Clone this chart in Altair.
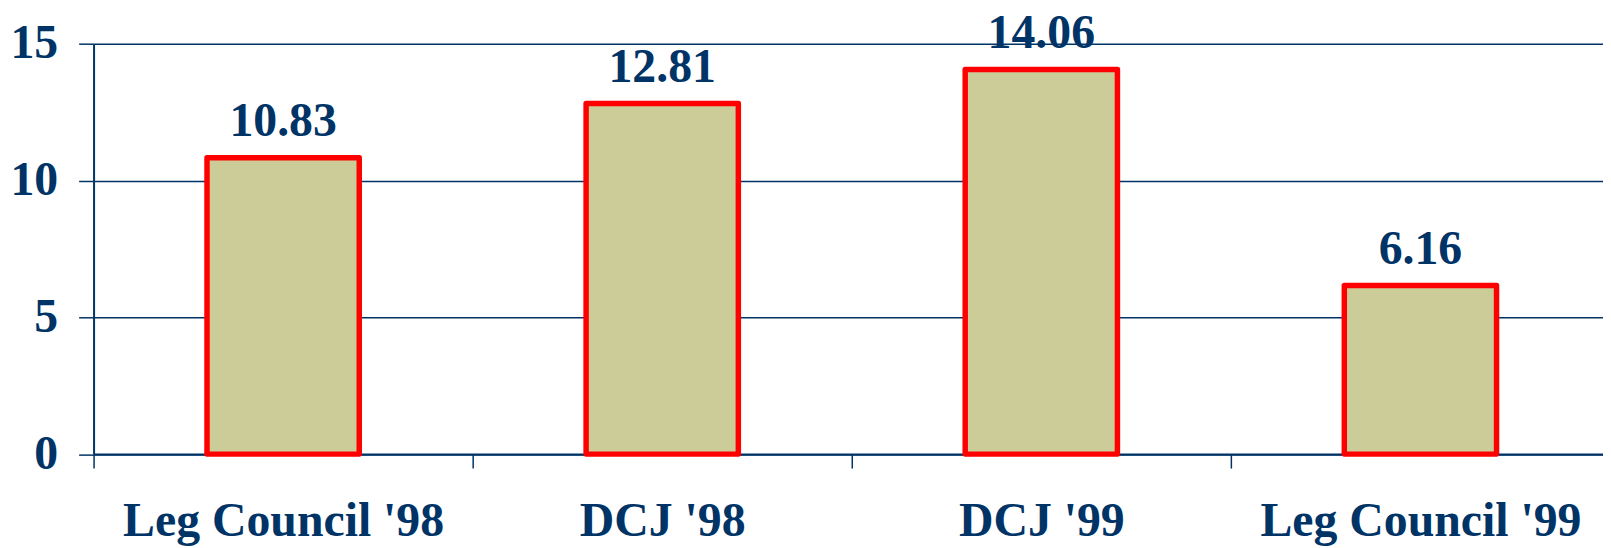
import altair as alt
import pandas as pd

categories = ["Leg Council '98", "DCJ '98", "DCJ '99", "Leg Council '99"]
values = [10.83, 12.81, 14.06, 6.16]
labels = ["10.83", "12.81", "14.06", "6.16"]
y_ticks = [0, 5, 10, 15]

df = pd.DataFrame({"cat": categories, "val": values, "lab": labels})

NAVY = "#003366"
FONT = "Liberation Serif"

x = alt.X(
    "cat:N",
    sort=categories,
    title=None,
    scale=alt.Scale(range=[0, 1524], paddingInner=0, paddingOuter=0),
    axis=alt.Axis(
        labelAngle=0,
        tickBand="extent",
        tickSize=14,
        tickColor=NAVY,
        tickWidth=1.5,
        domainColor=NAVY,
        domainWidth=2,
        labelPadding=68,
        labelBaseline="alphabetic",
        labelLimit=0,
        labelFont=FONT,
        labelFontSize=48,
        labelFontWeight="bold",
        labelColor=NAVY,
        grid=False,
    ),
)

y = alt.Y(
    "val:Q",
    title=None,
    scale=alt.Scale(domain=[0, 15], nice=False),
    axis=alt.Axis(
        values=y_ticks,
        tickSize=15,
        tickColor=NAVY,
        tickWidth=1.5,
        domainColor=NAVY,
        domainWidth=2,
        labelPadding=21,
        labelBaseline="middle",
        labelFont=FONT,
        labelFontSize=48,
        labelFontWeight="bold",
        labelColor=NAVY,
        grid=True,
        gridColor=NAVY,
        gridWidth=1.5,
        gridOpacity=1,
    ),
)

bars = alt.Chart(df).mark_bar(
    size=153, fill="#CCCC99", stroke="#FF0000", strokeWidth=5.5, strokeJoin="round"
).encode(x=x, y=y)

text = alt.Chart(df).mark_text(
    font=FONT, fontSize=48, fontWeight="bold", color=NAVY, baseline="alphabetic", dy=-22
).encode(x=alt.X("cat:N", sort=categories), y=alt.Y("val:Q"), text="lab:N")

chart = alt.layer(bars, text).properties(
    width=1517,
    height=412.5,
    autosize=alt.AutoSizeParams(type="none"),
    padding={"left": 86, "top": 34.5, "right": 0, "bottom": 95},
).configure_view(stroke=None)

chart.save("out.html", embed_options={"renderer": "svg", "actions": False})
